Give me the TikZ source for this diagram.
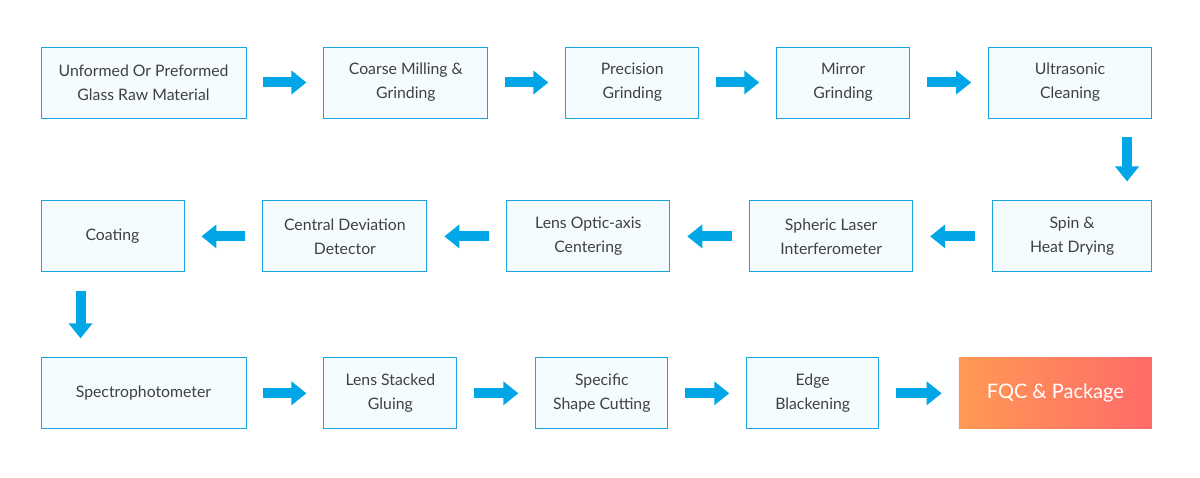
\documentclass[tikz,border=0pt]{standalone}
\usepackage{fontspec}
\setmainfont{Lato}
\usepackage{tikz}
\usetikzlibrary{positioning}
\usetikzlibrary{arrows.meta}
\definecolor{boxline}{HTML}{1AA3DF}
\definecolor{boxfill}{HTML}{F5FCFF}
\definecolor{boxtext}{HTML}{404040}
\definecolor{flowblue}{HTML}{00A6E6}
\definecolor{gradleft}{HTML}{FF9954}
\definecolor{gradright}{HTML}{FF6B6A}
\tikzstyle{process} = [rectangle, draw=boxline, line width=0.9pt, fill=boxfill, text=boxtext, align=center, minimum height=71pt, inner sep=0pt, font=\fontsize{15.8}{24}\selectfont]
\tikzstyle{final} = [rectangle, draw=none, left color=gradleft, right color=gradright, text=white, align=center, minimum height=71pt, inner sep=0pt, font=\fontsize{20}{24}\selectfont]
\tikzstyle{flow} = [draw=flowblue, line width=10pt, -{Triangle[length=15pt,width=23pt]}, shorten <=17pt, shorten >=17pt]
\tikzstyle{flowdown} = [draw=flowblue, line width=10pt, -{Triangle[length=15pt,width=23pt]}, shorten <=19pt, shorten >=19pt]

\begin{document}
\begin{tikzpicture}[node distance=78pt]
	\useasboundingbox (0,0) rectangle (1200pt,-478pt);

	% first row
	\node [process, minimum width=205pt] at (143.5pt,-82.5pt) (B1) {Unformed Or Preformed\\Glass Raw Material};
	\node [process, minimum width=164pt, right=77pt of B1] (B2) {Coarse Milling \&\\Grinding};
	\node [process, minimum width=133pt, right=77pt of B2] (B3) {Precision\\Grinding};
	\node [process, minimum width=133pt, right=77pt of B3] (B4) {Mirror\\Grinding};
	\node [process, minimum width=163pt, right=78pt of B4] (B5) {Ultrasonic\\Cleaning};

	% second row
	\node [process, minimum width=159pt, below=82pt of B5.south east, anchor=north east] (C1) {Spin \&\\Heat Drying};
	\node [process, minimum width=163pt, left=79pt of C1] (C2) {Spheric Laser\\Interferometer};
	\node [process, minimum width=163pt, left=79pt of C2] (C3) {Lens Optic-axis\\Centering};
	\node [process, minimum width=164pt, left=79pt of C3] (C4) {Central Deviation\\Detector};
	\node [process, minimum width=143pt, left=78pt of C4] (C5) {Coating};

	% third row
	\node [process, minimum width=205pt, below=85pt of C5.south west, anchor=north west] (D1) {Spectrophotometer};
	\node [process, minimum width=133pt, right=77pt of D1] (D2) {Lens Stacked\\Gluing};
	\node [process, minimum width=132pt, right=78pt of D2] (D3) {Specific\\Shape Cutting};
	\node [process, minimum width=132pt, right=78pt of D3] (D4) {Edge\\Blackening};
	\node [final, minimum width=193pt, right=79.5pt of D4] (D5) {FQC \& Package};

	% draw edges
	\path [flow] (B1) -- (B2);
	\path [flow] (B2) -- (B3);
	\path [flow] (B3) -- (B4);
	\path [flow] (B4) -- (B5);
	\path [flowdown] ([xshift=-25pt]B5.south east) -- ([xshift=-25pt]C1.north east);
	\path [flow] (C1) -- (C2);
	\path [flow] (C2) -- (C3);
	\path [flow] (C3) -- (C4);
	\path [flow] (C4) -- (C5);
	\path [flowdown] ([xshift=40pt]C5.south west) -- ([xshift=40pt]D1.north west);
	\path [flow] (D1) -- (D2);
	\path [flow] (D2) -- (D3);
	\path [flow] (D3) -- (D4);
	\path [flow] (D4) -- (D5);
\end{tikzpicture}
\end{document}
